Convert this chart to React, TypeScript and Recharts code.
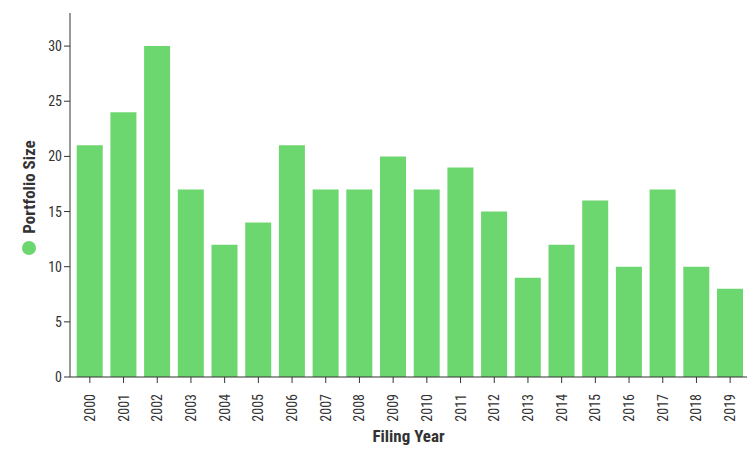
import React from 'react';
import { BarChart, Bar, XAxis, YAxis } from 'recharts';

const years = ['2000', '2001', '2002', '2003', '2004', '2005', '2006', '2007', '2008', '2009',
  '2010', '2011', '2012', '2013', '2014', '2015', '2016', '2017', '2018', '2019'];
const portfolioSize = [21, 24, 30, 17, 12, 14, 21, 17, 17, 20, 17, 19, 15, 9, 12, 16, 10, 17, 10, 8];
const yTicks = [0, 5, 10, 15, 20, 25, 30];

const data = years.map((year, i) => ({ year, size: portfolioSize[i] }));

const FONT = '"Roboto Condensed", "Liberation Sans Narrow", Roboto, sans-serif';
const GREEN = '#6cd66f';
const INK = '#333';

const XTick = (props: any) => {
  const { x, y, payload } = props;
  return (
    <g transform={`translate(${x},${y + 9})`}>
      <text transform="rotate(-90)" textAnchor="end" dy={5} fontSize={14} fill={INK} fontFamily={FONT}>
        {payload.value}
      </text>
    </g>
  );
};

const YLabel = () => (
  <g>
    <text
      transform="translate(35,187) rotate(-90)"
      textAnchor="middle"
      fontSize={17}
      fontWeight="bold"
      fill={INK}
      fontFamily={FONT}
    >
      Portfolio Size
    </text>
    <circle cx={29} cy={248} r={7} fill={GREEN} />
  </g>
);

export default function App() {
  return (
    <div style={{ position: 'absolute', left: 0, top: 0 }}>
      <BarChart
        width={750}
        height={450}
        data={data}
        margin={{ top: 13, right: 3, bottom: 0, left: 0 }}
        barCategoryGap="11%"
      >
        <XAxis
          dataKey="year"
          height={73}
          interval={0}
          padding={{ left: 3, right: 0 }}
          tick={<XTick />}
          tickLine={{ stroke: INK }}
          axisLine={{ stroke: INK }}
          tickSize={6}
          label={{
            value: 'Filing Year',
            position: 'insideBottom',
            offset: 8,
            fontSize: 17,
            fontWeight: 'bold',
            fill: INK,
            fontFamily: FONT,
          }}
        />
        <YAxis
          width={70}
          domain={[0, 33]}
          ticks={yTicks}
          interval={0}
          tick={{ fontSize: 14, fill: INK, fontFamily: FONT }}
          tickLine={{ stroke: INK }}
          axisLine={{ stroke: INK }}
          tickSize={6}
          label={<YLabel />}
        />
        <Bar dataKey="size" fill={GREEN} isAnimationActive={false} />
      </BarChart>
    </div>
  );
}
